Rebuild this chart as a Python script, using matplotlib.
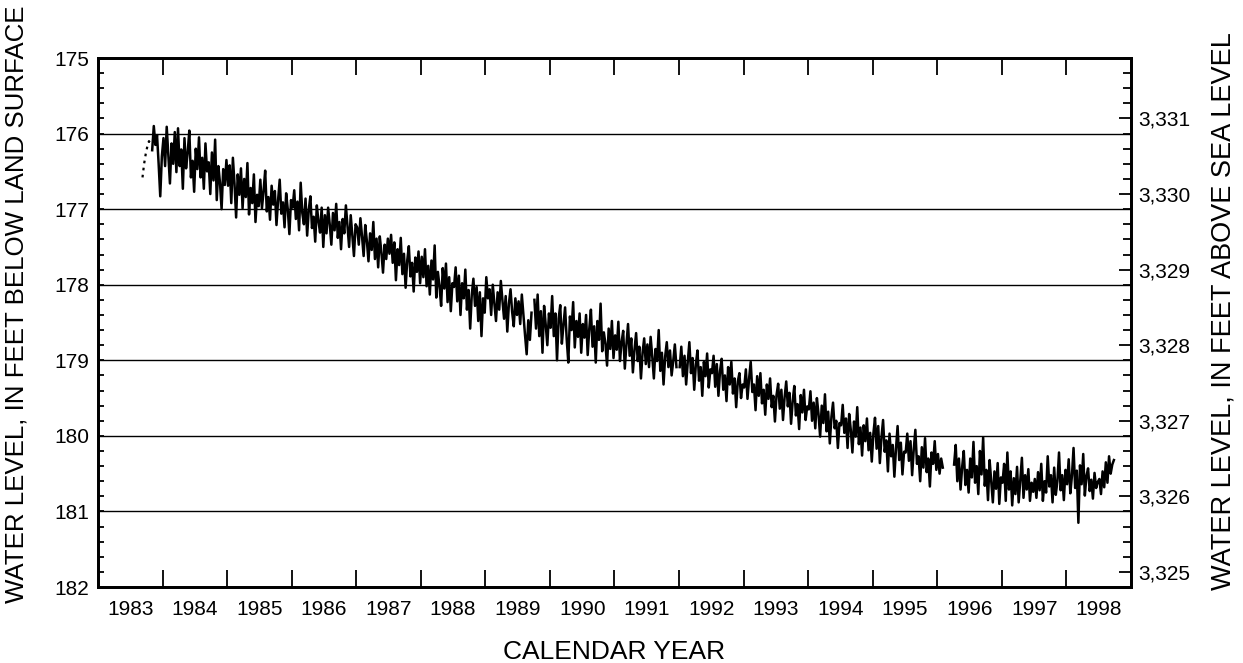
import numpy as np
import matplotlib
matplotlib.use("Agg")
import matplotlib.pyplot as plt
from matplotlib.ticker import MultipleLocator, FuncFormatter

plt.rcParams['font.family'] = ['Liberation Sans', 'DejaVu Sans']

# land-surface datum, feet above sea level
LSD = 3506.8
# sampling interval of the record, in years (about 9 days)
STEP = 0.025

# early intermittent readings (drawn dashed)
start0 = 1983.69
depth0 = [176.58, 176.40, 176.27, 176.17, 176.10, 176.13]

# continuous record, Oct 1983 - Sep 1989
start1 = 1983.84
depth1 = [
    176.22, 175.90, 176.15, 176.02, 176.40, 176.83, 176.30,
    176.06, 176.43, 175.91, 176.29, 176.66, 176.13, 176.40, 175.98, 176.51, 175.93,
    176.43, 176.21, 176.73, 176.06, 176.46, 176.25, 175.96, 176.58, 176.36, 176.77,
    176.20, 176.47, 176.05, 176.58, 176.32, 176.73, 176.13, 176.50, 176.38, 176.80,
    176.25, 176.62, 176.08, 176.88, 176.43, 176.65, 177.00, 176.47, 176.68, 176.35,
    176.69, 176.42, 176.92, 176.32, 176.66, 177.11, 176.54, 176.81, 176.46, 176.99,
    176.60, 176.84, 176.39, 177.07, 176.72, 176.92, 176.54, 177.17, 176.81, 176.96,
    176.61, 176.99, 176.76, 176.49, 177.03, 176.84, 177.14, 176.69, 176.94, 176.76,
    177.21, 176.88, 176.61, 177.06, 176.91, 177.24, 176.79, 177.00, 177.33, 176.88,
    176.98, 176.75, 177.13, 176.90, 177.28, 176.65, 177.05, 177.20, 176.86, 177.35,
    177.01, 176.83, 177.25, 177.10, 177.43, 176.95, 177.16, 177.31, 176.98, 177.50,
    177.08, 177.32, 176.98, 177.20, 177.47, 177.05, 177.28, 176.93, 177.38, 177.17,
    177.53, 177.13, 177.32, 176.95, 177.23, 177.50, 177.08, 177.35, 177.62, 177.20,
    177.24, 177.47, 177.12, 177.36, 177.62, 177.21, 177.42, 177.69, 177.32, 177.54,
    177.17, 177.66, 177.39, 177.77, 177.36, 177.57, 177.84, 177.47, 177.66, 177.39,
    177.59, 177.34, 177.71, 177.44, 177.94, 177.53, 177.74, 177.38, 177.86, 177.59,
    178.04, 177.68, 177.49, 177.89, 177.71, 178.09, 177.64, 177.83, 177.56, 177.98,
    177.63, 177.90, 177.53, 178.02, 177.75, 178.13, 177.68, 177.93, 177.48, 178.17,
    177.83, 178.02, 178.28, 177.78, 178.05, 177.72, 178.23, 177.90, 178.35, 177.98,
    178.03, 177.77, 178.22, 177.88, 178.40, 177.98, 178.18, 177.80, 178.33, 178.07,
    178.58, 178.13, 177.92, 178.28, 178.03, 178.48, 178.10, 178.68, 178.18, 178.37,
    177.90, 178.18, 178.06, 178.40, 178.00, 178.25, 178.48, 178.10, 178.33, 177.95,
    178.21, 178.45, 178.15, 178.62, 178.25, 178.06, 178.36, 178.55, 178.18, 178.40,
    178.22, 178.52, 178.13, 178.40, 178.67, 178.92, 178.47, 178.73, 178.37,
]

# Oct 1989 - Dec 1991
start2 = 1989.76
depth2 = [
    178.20, 178.58, 178.13, 178.68, 178.35, 178.90, 178.28, 178.53, 178.80, 178.38,
    178.57, 178.15, 178.68, 178.38, 179.00, 178.45, 178.27, 178.78, 178.53, 178.30,
    178.72, 179.03, 178.42, 178.60, 178.23, 178.83, 178.48, 178.69, 178.38, 178.90,
    178.52, 178.70, 178.40, 178.93, 178.58, 178.33, 178.82, 178.55, 179.03, 178.48,
    178.73, 178.25, 178.88, 178.63, 178.78, 179.07, 178.58, 178.85, 178.48, 178.97,
    178.67, 178.86, 178.49, 179.01, 178.76, 178.61, 179.11, 178.79, 178.52, 178.94,
    178.71, 179.16, 178.86, 178.64, 179.01, 178.82, 179.24, 178.90, 178.71, 179.05,
    178.79, 179.09, 178.69, 178.95, 179.24, 178.85, 179.01, 178.60, 179.14, 178.90,
    179.32, 178.95, 178.76, 179.09, 178.87, 179.20, 179.01, 178.79, 179.09,
]

# Jan 1992 - Feb 1996
start3 = 1992.01
depth3 = [
    179.09, 178.82, 179.21, 178.94, 179.32, 179.02, 178.76, 179.17, 178.97, 179.39,
    179.06, 178.87, 179.27, 179.09, 179.47, 179.02, 179.21, 178.91, 179.36, 179.12,
    179.17, 178.94, 179.35, 179.05, 179.47, 179.14, 178.98, 179.39, 179.20, 179.54,
    179.09, 179.32, 179.02, 179.44, 179.24, 179.62, 179.28, 179.17, 179.50, 179.32,
    179.36, 179.12, 179.51, 179.24, 179.02, 179.42, 179.32, 179.66, 179.21, 179.47,
    179.17, 179.57, 179.39, 179.72, 179.32, 179.51, 179.24, 179.62, 179.47, 179.81,
    179.46, 179.31, 179.64, 179.39, 179.79, 179.49, 179.28, 179.61, 179.43, 179.84,
    179.54, 179.34, 179.73, 179.58, 179.91, 179.46, 179.69, 179.39, 179.79, 179.61,
    179.65, 179.41, 179.80, 179.56, 179.90, 179.50, 179.71, 180.01, 179.60, 179.83,
    179.45, 179.94, 179.68, 180.10, 179.75, 179.56, 179.90, 179.80, 180.16, 179.83,
    179.86, 179.59, 179.96, 179.77, 180.16, 179.71, 179.92, 180.22, 179.81, 180.01,
    179.62, 180.11, 179.89, 180.26, 179.86, 180.07, 179.77, 180.19, 179.96, 180.34,
    179.97, 179.76, 180.17, 179.87, 180.36, 180.02, 179.79, 180.21, 180.06, 180.47,
    179.97, 180.27, 180.12, 180.54, 180.17, 179.87, 180.32, 180.09, 180.51, 180.21,
    180.22, 179.97, 180.33, 180.07, 180.52, 180.18, 179.92, 180.37, 180.27, 180.60,
    180.15, 180.42, 180.03, 180.48, 180.30, 180.67, 180.22, 180.37, 180.07, 180.45,
    180.24, 180.50, 180.30, 180.42,
]

# Apr 1996 - Sep 1998
start4 = 1996.26
depth4 = [
    180.38, 180.12, 180.60, 180.30, 180.71, 180.41, 180.20, 180.65, 180.45, 180.75,
    180.30, 180.55, 180.08, 180.62, 180.40, 180.77, 180.20, 180.51, 180.02, 180.66,
    180.45, 180.85, 180.32, 180.60, 180.88, 180.47, 180.70, 180.36, 180.90, 180.55,
    180.62, 180.37, 180.86, 180.22, 180.71, 180.47, 180.92, 180.56, 180.77, 180.41,
    180.88, 180.59, 180.29, 180.82, 180.52, 180.71, 180.44, 180.86, 180.62, 180.74,
    180.57, 180.82, 180.48, 180.72, 180.37, 180.86, 180.60, 180.75, 180.27, 180.67,
    180.52, 180.88, 180.42, 180.78, 180.60, 180.22, 180.72, 180.52, 180.85, 180.45,
    180.64, 180.31, 180.76, 180.53, 180.16, 180.69, 180.46, 181.15, 180.39, 180.64,
    180.24, 180.79, 180.53, 180.43, 180.73, 180.58, 180.83, 180.49, 180.69, 180.61,
    180.57, 180.77, 180.47, 180.68, 180.35, 180.62, 180.27, 180.50, 180.38, 180.32,
]

years = list(range(1983, 1999))


def times(start, values):
    return start + STEP * np.arange(len(values))


fig = plt.figure(figsize=(12.43, 6.63), dpi=100)
ax = fig.add_axes([0.0788, 0.1146, 0.8311, 0.7979])

ax.plot(times(start0, depth0), depth0, color="black", lw=1.6,
        linestyle=(0, (1.2, 2.0)), zorder=3)
for start, depth in [(start1, depth1), (start2, depth2),
                     (start3, depth3), (start4, depth4)]:
    ax.plot(times(start, depth), depth, color="black", lw=1.8, zorder=3)

ax.set_xlim(1983, 1999)
ax.set_ylim(182, 175)

# horizontal rules at every foot
for d in range(176, 182):
    ax.axhline(d, color="black", lw=1.0, zorder=2)

# year boundaries get ticks, labels sit in the middle of each year
ax.set_xticks(years[1:])
ax.set_xticklabels([])
ax.set_xticks([y + 0.5 for y in years], minor=True)
ax.set_xticklabels([str(y) for y in years], minor=True)
ax.tick_params(axis="x", which="major", direction="in", length=12, width=1.3,
               top=True, bottom=True)
ax.tick_params(axis="x", which="minor", length=0, pad=9, labelsize=15)

ax.set_yticks(range(175, 183))
ax.yaxis.set_minor_locator(MultipleLocator(0.2))
ax.tick_params(axis="y", which="both", direction="in", length=4, width=1.3,
               labelsize=15, pad=6, right=False)

# elevation scale on the right
ax2 = ax.twinx()
ax2.set_ylim(LSD - 182, LSD - 175)
ax2.set_yticks(range(3325, 3332))
ax2.yaxis.set_minor_locator(MultipleLocator(0.2))
ax2.yaxis.set_major_formatter(FuncFormatter(lambda v, p: f"{int(round(v)):,}"))
ax2.tick_params(axis="y", which="major", direction="in", length=9, width=1.3,
                labelsize=15, pad=5)
ax2.tick_params(axis="y", which="minor", direction="in", length=6, width=1.3)

for a in (ax, ax2):
    for s in a.spines.values():
        s.set_linewidth(2)

fig.text(0.4942, 0.0166, "CALENDAR YEAR", ha="center", va="center", fontsize=19)
fig.text(0.0135, 0.541, "WATER LEVEL, IN FEET BELOW LAND SURFACE",
         rotation=90, ha="center", va="center", fontsize=18.6)
fig.text(0.9847, 0.531, "WATER LEVEL, IN FEET ABOVE SEA LEVEL",
         rotation=90, ha="center", va="center", fontsize=19.5)

fig.savefig("out.png", dpi=100)
